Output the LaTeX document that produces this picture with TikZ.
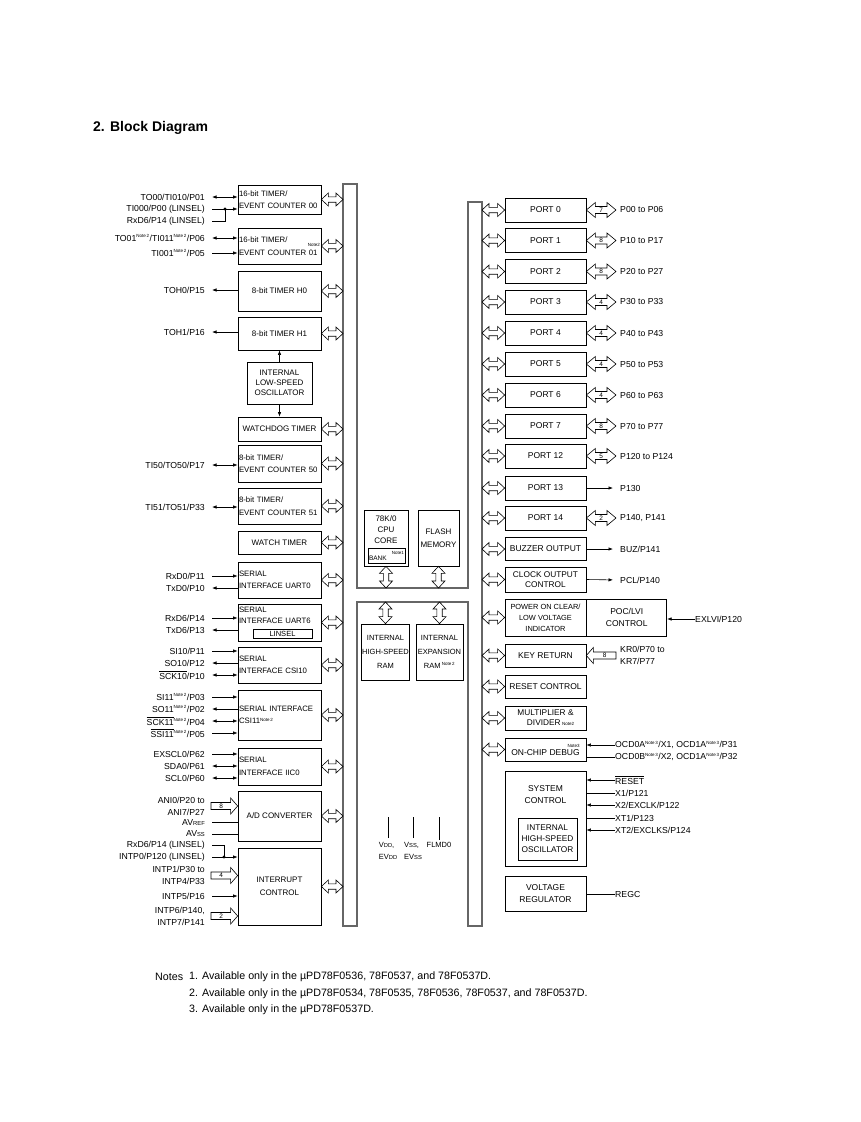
\documentclass[tikz,border=0pt]{standalone}
\usepackage{fontspec}
\setmainfont{Liberation Sans}
\usetikzlibrary{arrows.meta,calc}
\newcommand\nte[1]{\textsuperscript{\fontsize{4.5}{5}\selectfont Note\,#1}}
\newcommand\ovl[1]{\ensuremath{\overline{\mbox{#1}}}}
\newcommand\lowc[1]{{\fontsize{5.8}{6}\selectfont #1}}
\newcommand\ahl{7pt}\newcommand\ahw{6.5pt}\newcommand\asw{2.8pt}
\begin{document}
\begin{tikzpicture}[x=1pt,y=-1pt,
    box/.style={draw,line width=0.7pt,inner sep=1pt,align=center,font=\fontsize{8}{12.5}\selectfont},
    lbox/.style={box,minimum width=83,minimum height=#1,text width=81,inner xsep=0.8pt,align=left,font=\fontsize{7.8}{12.5}\selectfont},
    cbox/.style={box,minimum width=83,minimum height=#1},
    rbox/.style={box,minimum width=81,minimum height=#1,font=\fontsize{8.5}{11.5}\selectfont},
    lab/.style={inner sep=0pt,anchor=east,align=right,font=\fontsize{8.7}{12}\selectfont},
    rlab/.style={lab,anchor=west,align=left},
    num/.style={inner sep=0pt,font=\fontsize{6.5}{7}\selectfont},
    arr/.style={-{Latex[length=4.5pt,width=3.4pt]},line width=0.6pt},
    biarr/.style={{Latex[length=4.5pt,width=3.4pt]}-{Latex[length=4.5pt,width=3.4pt]},line width=0.6pt},
    wire/.style={line width=0.6pt},
    bus/.style={draw=black!60,line width=1.1pt},
    dbl/.style={line width=0.6pt,to path={(\tikztostart)
      -- ($(\tikztostart)!\ahl!(\tikztotarget)!\ahw!90:(\tikztotarget)$)
      -- ($(\tikztostart)!\ahl!(\tikztotarget)!\asw!90:(\tikztotarget)$)
      -- ($(\tikztotarget)!\ahl!(\tikztostart)!\asw!-90:(\tikztostart)$)
      -- ($(\tikztotarget)!\ahl!(\tikztostart)!\ahw!-90:(\tikztostart)$)
      -- (\tikztotarget)
      -- ($(\tikztotarget)!\ahl!(\tikztostart)!\ahw!90:(\tikztostart)$)
      -- ($(\tikztotarget)!\ahl!(\tikztostart)!\asw!90:(\tikztostart)$)
      -- ($(\tikztostart)!\ahl!(\tikztotarget)!\asw!-90:(\tikztotarget)$)
      -- ($(\tikztostart)!\ahl!(\tikztotarget)!\ahw!-90:(\tikztotarget)$)
      -- cycle}},
    busarr/.style={dbl,/utils/exec={\def\ahl{7pt}\def\ahw{6.5pt}\def\asw{2.7pt}}},
    pinarr/.style={dbl,/utils/exec={\def\ahl{9pt}\def\ahw{7.5pt}\def\asw{3.5pt}}},
    wide/.style={line width=0.6pt,/utils/exec={\def\ahl{7pt}\def\ahw{8pt}\def\asw{3.5pt}},to path={
      ($(\tikztostart)!\asw!90:(\tikztotarget)$)
      -- ($(\tikztotarget)!\ahl!(\tikztostart)!\asw!-90:(\tikztostart)$)
      -- ($(\tikztotarget)!\ahl!(\tikztostart)!\ahw!-90:(\tikztostart)$)
      -- (\tikztotarget)
      -- ($(\tikztotarget)!\ahl!(\tikztostart)!\ahw!90:(\tikztostart)$)
      -- ($(\tikztotarget)!\ahl!(\tikztostart)!\asw!90:(\tikztostart)$)
      -- ($(\tikztostart)!\asw!-90:(\tikztotarget)$)
      -- cycle}}]
  \useasboundingbox (0,0) rectangle (861,1122);
  \node[anchor=west,inner sep=0pt,font=\bfseries\fontsize{14}{16}\selectfont] (title) at (93,128) {2. Block Diagram};
  % internal bus
  \coordinate (busL) at (343,0); \coordinate (busR) at (482,0);
  \coordinate (hbT) at (0,588); \coordinate (hbB) at (0,602);
  \coordinate (pinL) at (211,0); \coordinate (pinR) at (616,0);
  \draw[bus] (343,184) -- (357,184) -- (357,588) -- (468,588) -- (468,202) -- (482,202) -- (482,926)
    -- (468,926) -- (468,602) -- (357,602) -- (357,926) -- (343,926) -- cycle;
  % left peripherals
  \node[lbox=29] (t00) at (279.5,199.5) {16-bit TIMER/\\EVENT COUNTER 00};
  \node[lbox=36] (t01) at (279.5,246) {16-bit TIMER/\hfill\raisebox{-4pt}{\fontsize{4.5}{5}\selectfont Note2}\\EVENT COUNTER 01};
  \node[cbox=40] (h0) at (279.5,291) {8-bit TIMER H0};
  \node[cbox=33] (h1) at (279.5,333.5) {8-bit TIMER H1};
  \node[box,minimum width=65,minimum height=42,font=\fontsize{8}{10}\selectfont] (losc) at (279.5,383) {INTERNAL\\LOW-SPEED\\OSCILLATOR};
  \node[cbox=24] (wdt) at (279.5,429) {WATCHDOG TIMER};
  \node[lbox=37] (t50) at (279.5,463.5) {8-bit TIMER/\\EVENT COUNTER 50};
  \node[lbox=36] (t51) at (279.5,506) {8-bit TIMER/\\EVENT COUNTER 51};
  \node[cbox=23] (wt) at (279.5,542.5) {WATCH TIMER};
  \node[lbox=36] (uart0) at (279.5,580) {SERIAL\\INTERFACE UART0};
  \node[lbox=37,font=\fontsize{7.8}{11.5}\selectfont] (uart6) at (279.5,622.5) {SERIAL\\INTERFACE UART6\\\strut};
  \node[draw,line width=0.6pt,inner sep=0pt,minimum width=59,minimum height=9,font=\fontsize{7.5}{8}\selectfont] (linsel) at (282.5,633.5) {LINSEL};
  \node[lbox=36] (csi10) at (279.5,665) {SERIAL\\INTERFACE CSI10};
  \node[lbox=50] (csi11) at (279.5,715) {SERIAL INTERFACE\\CSI11\nte{2}};
  \node[lbox=37] (iic0) at (279.5,766.5) {SERIAL\\INTERFACE IIC0};
  \node[cbox=50] (adc) at (279.5,816) {A/D CONVERTER};
  \node[cbox=77] (intc) at (279.5,886.5) {INTERRUPT\\CONTROL};
  \draw[arr] (losc.north) -- (h1.south); \draw[arr] (losc.south) -- (wdt.north);
  \foreach \b in {t00,t01,h0,h1,wdt,t50,t51,wt,uart0,uart6,csi10,csi11,iic0,adc,intc}
    \draw[busarr] (\b.east) to (\b.east -| busL);
  % left pins
  \node[lab] (la1) at (205,197) {TO00/TI010/P01};
  \node[lab] (la2) at (205,209) {TI000/P00 (LINSEL)};
  \node[lab] (la3) at (205,221) {RxD6/P14 (LINSEL)};
  \node[lab] (lb1) at (205,238) {TO01\nte{2}/TI011\nte{2}/P06};
  \node[lab] (lb2) at (205,253) {TI001\nte{2}/P05};
  \node[lab] (lh0) at (205,290) {TOH0/P15};
  \node[lab] (lh1) at (205,332) {TOH1/P16};
  \node[lab] (l50) at (205,465) {TI50/TO50/P17};
  \node[lab] (l51) at (205,507) {TI51/TO51/P33};
  \node[lab] (lu0r) at (205,576) {RxD0/P11};
  \node[lab] (lu0t) at (205,588) {TxD0/P10};
  \node[lab] (lu6r) at (205,618) {RxD6/P14};
  \node[lab] (lu6t) at (205,630) {TxD6/P13};
  \node[lab] (lc0i) at (205,651) {SI10/P11};
  \node[lab] (lc0o) at (205,663) {SO10/P12};
  \node[lab] (lc0k) at (205,675) {\ovl{SCK10}/P10};
  \node[lab] (lc1i) at (205,697) {SI11\nte{2}/P03};
  \node[lab] (lc1o) at (205,709) {SO11\nte{2}/P02};
  \node[lab] (lc1k) at (205,721) {\ovl{SCK11}\nte{2}/P04};
  \node[lab] (lc1s) at (205,733) {\ovl{SSI11}\nte{2}/P05};
  \node[lab] (lie) at (205,754) {EXSCL0/P62};
  \node[lab] (lid) at (205,766) {SDA0/P61};
  \node[lab] (lic) at (205,778) {SCL0/P60};
  \node[lab] (lani) at (205,806) {ANI0/P20 to\\ANI7/P27};
  \node[lab] (lavr) at (205,822) {AV\lowc{REF}};
  \node[lab] (lavs) at (205,834) {AV\lowc{SS}};
  \node[lab] (lrx) at (205,845) {RxD6/P14 (LINSEL)};
  \node[lab] (lit0) at (205,857) {INTP0/P120 (LINSEL)};
  \node[lab] (lit1) at (205,875.5) {INTP1/P30 to\\INTP4/P33};
  \node[lab] (lit5) at (205,896) {INTP5/P16};
  \node[lab] (lit6) at (205,916) {INTP6/P140,\\INTP7/P141};
  \draw[biarr,shorten <=7pt] (la1.east) -- (la1.east -| t00.west);
  \draw[arr,shorten <=7pt] (la2.east) -- (la2.east -| t00.west);
  \coordinate (j1) at ([xshift=20pt]la2.east);
  \draw[wire,shorten <=7pt] (la3.east) -| (j1); \fill (j1) circle (1.6);
  \draw[biarr,shorten <=7pt] (lb1.east) -- (lb1.east -| t01.west);
  \draw[arr,shorten <=7pt] (lb2.east) -- (lb2.east -| t01.west);
  \draw[arr,shorten >=7pt] (lh0.east -| h0.west) -- (lh0.east);
  \draw[arr,shorten >=7pt] (lh1.east -| h1.west) -- (lh1.east);
  \draw[biarr,shorten <=7pt] (l50.east) -- (l50.east -| t50.west);
  \draw[biarr,shorten <=7pt] (l51.east) -- (l51.east -| t51.west);
  \draw[arr,shorten <=7pt] (lu0r.east) -- (lu0r.east -| uart0.west);
  \draw[arr,shorten >=7pt] (lu0t.east -| uart0.west) -- (lu0t.east);
  \draw[arr,shorten <=7pt] (lu6r.east) -- (lu6r.east -| uart6.west);
  \draw[arr,shorten >=7pt] (lu6t.east -| uart6.west) -- (lu6t.east);
  \draw[arr,shorten <=7pt] (lc0i.east) -- (lc0i.east -| csi10.west);
  \draw[arr,shorten >=7pt] (lc0o.east -| csi10.west) -- (lc0o.east);
  \draw[biarr,shorten <=7pt] (lc0k.east) -- (lc0k.east -| csi10.west);
  \draw[arr,shorten <=7pt] (lc1i.east) -- (lc1i.east -| csi11.west);
  \draw[arr,shorten >=7pt] (lc1o.east -| csi11.west) -- (lc1o.east);
  \draw[biarr,shorten <=7pt] (lc1k.east) -- (lc1k.east -| csi11.west);
  \draw[arr,shorten <=7pt] (lc1s.east) -- (lc1s.east -| csi11.west);
  \draw[arr,shorten <=7pt] (lie.east) -- (lie.east -| iic0.west);
  \draw[biarr,shorten <=7pt] (lid.east) -- (lid.east -| iic0.west);
  \draw[biarr,shorten <=7pt] (lic.east) -- (lic.east -| iic0.west);
  \draw[wide] (pinL |- lani.east) to (lani.east -| adc.west);
  \path (pinL |- lani.east) -- node[num,pos=0.38] {8} (lani.east -| adc.west);
  \draw[wire,shorten <=7pt] (lavr.east) -- (lavr.east -| adc.west);
  \draw[wire,shorten <=7pt] (lavs.east) -- (lavs.east -| adc.west);
  \draw[arr,shorten <=7pt] (lit0.east) -- (lit0.east -| intc.west);
  \coordinate (j2) at ([xshift=19pt]lit0.east);
  \draw[wire,shorten <=7pt] (lrx.east) -| (j2); \fill (j2) circle (1.6);
  \draw[wide] (pinL |- lit1.east) to (lit1.east -| intc.west);
  \path (pinL |- lit1.east) -- node[num,pos=0.38] {4} (lit1.east -| intc.west);
  \draw[arr,shorten <=7pt] (lit5.east) -- (lit5.east -| intc.west);
  \draw[wide] (pinL |- lit6.east) to (lit6.east -| intc.west);
  \path (pinL |- lit6.east) -- node[num,pos=0.38] {2} (lit6.east -| intc.west);
  % core and memories
  \node[box,minimum width=44,minimum height=56] (cpu) at (386,538) {};
  \node[inner sep=0pt,align=center,font=\fontsize{8}{11}\selectfont] (cput) at (386,530) {78K/0\\CPU\\CORE};
  \node[draw,line width=0.6pt,inner sep=1pt,text width=35,minimum height=15,align=left,font=\fontsize{6.5}{6}\selectfont] (bank) at (386.5,555.5) {\hfill{\fontsize{4.5}{5}\selectfont Note1}\\BANK};
  \node[box,minimum width=41,minimum height=56] (flash) at (438.5,538) {FLASH\\MEMORY};
  \node[box,minimum width=47,minimum height=56,font=\fontsize{7.5}{14}\selectfont] (hram) at (385.5,652) {INTERNAL\\HIGH-SPEED\\RAM};
  \node[box,minimum width=47,minimum height=56,font=\fontsize{7.5}{14}\selectfont] (xram) at (439.5,652) {INTERNAL\\EXPANSION\\RAM\,\nte{2}};
  \draw[busarr] (cpu.south) to (cpu.south |- hbT); \draw[busarr] (flash.south) to (flash.south |- hbT);
  \draw[busarr] (hram.north) to (hram.north |- hbB); \draw[busarr] (xram.north) to (xram.north |- hbB);
  \node[anchor=north,inner sep=0pt,align=left,font=\fontsize{7.5}{12}\selectfont] (vdd) at (388,842) {V\lowc{DD},\\EV\lowc{DD}};
  \node[anchor=north,inner sep=0pt,align=left,font=\fontsize{7.5}{12}\selectfont] (vss) at (413,842) {V\lowc{SS},\\EV\lowc{SS}};
  \node[anchor=north,inner sep=0pt,font=\fontsize{7.5}{12}\selectfont] (flmd) at (439,842) {FLMD0};
  \draw[wire] ([yshift=4pt]vdd.north) -- ++(0,-21); \draw[wire] ([yshift=4pt]vss.north) -- ++(0,-21);
  \draw[wire] ([yshift=2pt]flmd.north) -- ++(0,-23);
  % right peripherals
  \node[rbox=24] (p0) at (545.5,210) {PORT 0};
  \node[rbox=24] (p1) at (545.5,240.5) {PORT 1};
  \node[rbox=24] (p2) at (545.5,271.5) {PORT 2};
  \node[rbox=24] (p3) at (545.5,302) {PORT 3};
  \node[rbox=24] (p4) at (545.5,333) {PORT 4};
  \node[rbox=24] (p5) at (545.5,364) {PORT 5};
  \node[rbox=24] (p6) at (545.5,395) {PORT 6};
  \node[rbox=24] (p7) at (545.5,426) {PORT 7};
  \node[rbox=24] (p12) at (545.5,456) {PORT 12};
  \node[rbox=24] (p13) at (545.5,488) {PORT 13};
  \node[rbox=24] (p14) at (545.5,518) {PORT 14};
  \node[rbox=23] (buz) at (545.5,549) {BUZZER OUTPUT};
  \node[rbox=25,font=\fontsize{8.3}{10.5}\selectfont] (clk) at (545.5,579.5) {CLOCK OUTPUT\\CONTROL};
  \node[rbox=37,inner sep=0pt,font=\fontsize{7.4}{11}\selectfont] (poc) at (545.5,617.5) {POWER ON CLEAR/\\LOW VOLTAGE\\INDICATOR};
  \node[box,anchor=west,minimum width=80,minimum height=37,font=\fontsize{8.5}{12}\selectfont] (lvi) at (poc.east) {POC/LVI\\CONTROL};
  \node[rbox=23] (key) at (545.5,655.5) {KEY RETURN};
  \node[rbox=23] (rst) at (545.5,686.5) {RESET CONTROL};
  \node[rbox=24,font=\fontsize{8.3}{10}\selectfont] (mul) at (545.5,718) {MULTIPLIER \&\\\hspace*{10pt}DIVIDER\,{\fontsize{4.5}{5}\selectfont Note2}};
  \node[rbox=23,align=right,font=\fontsize{8.5}{8}\selectfont] (ocd) at (545.5,749.5) {{\fontsize{4.5}{5}\selectfont Note3}\\ON-CHIP DEBUG};
  \node[rbox=95] (sysc) at (545.5,818.5) {};
  \node[inner sep=0pt,align=center,font=\fontsize{8.5}{12}\selectfont] (sysct) at (545.5,795) {SYSTEM\\CONTROL};
  \node[box,minimum width=59,minimum height=42,font=\fontsize{8.3}{11}\selectfont] (hosc) at (547.5,839) {INTERNAL\\HIGH-SPEED\\OSCILLATOR};
  \node[rbox=35,font=\fontsize{8.5}{12}\selectfont] (vreg) at (545.5,893.5) {VOLTAGE\\REGULATOR};
  \foreach \b in {p0,p1,p2,p3,p4,p5,p6,p7,p12,p13,p14,buz,clk,poc,key,rst,mul,ocd}
    \draw[busarr] (busR |- \b.west) to (\b.west);
  % right pins
  \node[rlab] (lp0) at (620,210) {P00 to P06};
  \node[rlab] (lp1) at (620,240.5) {P10 to P17};
  \node[rlab] (lp2) at (620,271.5) {P20 to P27};
  \node[rlab] (lp3) at (620,302) {P30 to P33};
  \node[rlab] (lp4) at (620,333) {P40 to P43};
  \node[rlab] (lp5) at (620,364) {P50 to P53};
  \node[rlab] (lp6) at (620,395) {P60 to P63};
  \node[rlab] (lp7) at (620,426) {P70 to P77};
  \node[rlab] (lp12) at (620,456) {P120 to P124};
  \node[rlab] (lp13) at (620,488) {P130};
  \node[rlab] (lp14) at (620,518) {P140, P141};
  \draw[pinarr] (p0.east) to (p0.east -| pinR); \path (p0.east) -- node[num] {7} (p0.east -| pinR);
  \draw[pinarr] (p1.east) to (p1.east -| pinR); \path (p1.east) -- node[num] {8} (p1.east -| pinR);
  \draw[pinarr] (p2.east) to (p2.east -| pinR); \path (p2.east) -- node[num] {8} (p2.east -| pinR);
  \draw[pinarr] (p3.east) to (p3.east -| pinR); \path (p3.east) -- node[num] {4} (p3.east -| pinR);
  \draw[pinarr] (p4.east) to (p4.east -| pinR); \path (p4.east) -- node[num] {4} (p4.east -| pinR);
  \draw[pinarr] (p5.east) to (p5.east -| pinR); \path (p5.east) -- node[num] {4} (p5.east -| pinR);
  \draw[pinarr] (p6.east) to (p6.east -| pinR); \path (p6.east) -- node[num] {4} (p6.east -| pinR);
  \draw[pinarr] (p7.east) to (p7.east -| pinR); \path (p7.east) -- node[num] {8} (p7.east -| pinR);
  \draw[pinarr] (p12.east) to (p12.east -| pinR); \path (p12.east) -- node[num] {5} (p12.east -| pinR);
  \draw[arr,shorten >=7pt] (p13.east) -- (lp13.west);
  \draw[pinarr] (p14.east) to (p14.east -| pinR); \path (p14.east) -- node[num] {2} (p14.east -| pinR);
  \node[rlab] (lbuz) at (620,549) {BUZ/P141};
  \node[rlab] (lpcl) at (620,580) {PCL/P140};
  \draw[arr,shorten >=7pt] (buz.east) -- (lbuz.west); \draw[arr,shorten >=7pt] (clk.east) -- (lpcl.west);
  \node[rlab] (llvi) at (695,619) {EXLVI/P120};
  \draw[arr] (llvi.west) -- (llvi.west -| lvi.east);
  \node[rlab] (lkr) at (620,655.5) {KR0/P70 to\\KR7/P77};
  \draw[wide] (key.east -| pinR) to (key.east); \path (key.east -| pinR) -- node[num,pos=0.38] {8} (key.east);
  \node[rlab] (locda) at (615,745) {OCD0A\nte{3}/X1, OCD1A\nte{3}/P31};
  \node[rlab] (locdb) at (615,757) {OCD0B\nte{3}/X2, OCD1A\nte{3}/P32};
  \draw[arr] (locda.west) -- (locda.west -| ocd.east); \draw[wire] (locdb.west) -- (locdb.west -| ocd.east);
  \node[rlab] (lrst) at (615,780) {\ovl{RESET}};
  \node[rlab] (lx1) at (615,793) {X1/P121};
  \node[rlab] (lx2) at (615,805) {X2/EXCLK/P122};
  \node[rlab] (lxt1) at (615,818) {XT1/P123};
  \node[rlab] (lxt2) at (615,830) {XT2/EXCLKS/P124};
  \node[rlab] (lregc) at (615,894) {REGC};
  \draw[arr] (lrst.west) -- (lrst.west -| sysc.east); \draw[wire] (lx1.west) -- (lx1.west -| sysc.east);
  \draw[arr] (lx2.west) -- (lx2.west -| sysc.east); \draw[wire] (lxt1.west) -- (lxt1.west -| sysc.east);
  \draw[arr] (lxt2.west) -- (lxt2.west -| sysc.east); \draw[wire] (lregc.west) -- (lregc.west -| vreg.east);
  % notes
  \node[anchor=west,inner sep=0pt,font=\fontsize{10.7}{16.5}\selectfont] (notes) at (155,977) {Notes};
  \node[anchor=north west,inner sep=0pt,align=left,font=\fontsize{10.7}{16.5}\selectfont] (notelist) at (189,972) {1. Available only in the µPD78F0536, 78F0537, and 78F0537D.\\2. Available only in the µPD78F0534, 78F0535, 78F0536, 78F0537, and 78F0537D.\\3. Available only in the µPD78F0537D.};
\end{tikzpicture}
\end{document}
